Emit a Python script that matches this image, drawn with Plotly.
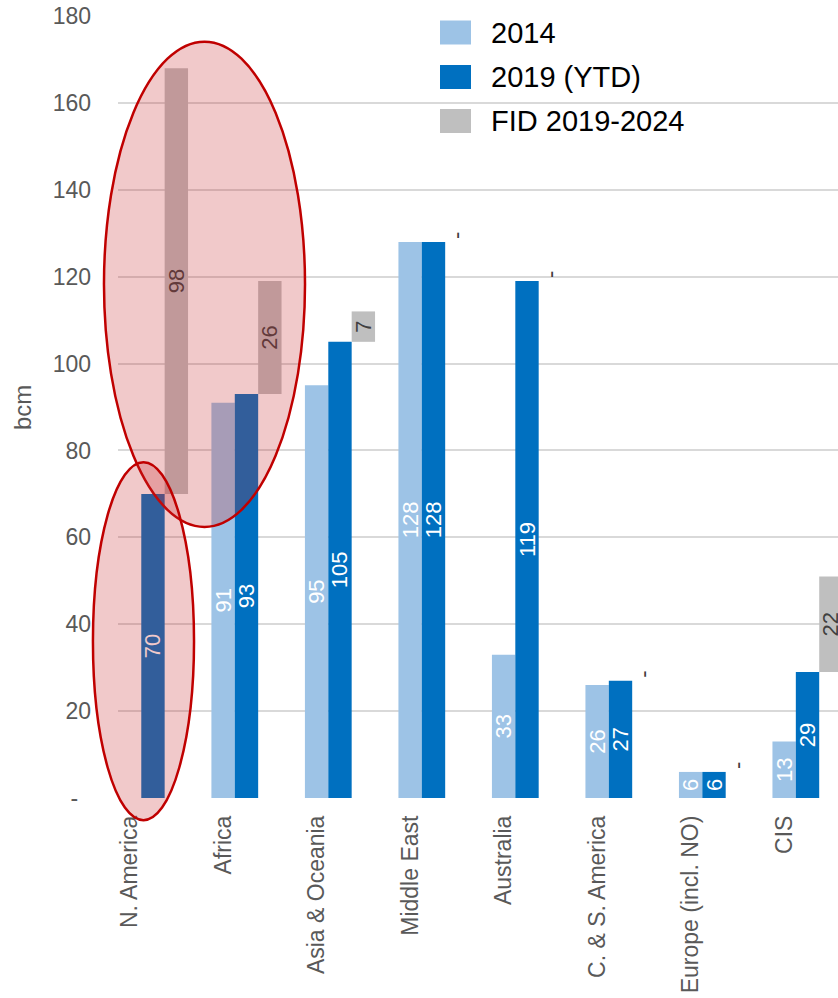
import plotly.graph_objects as go

# LNG liquefaction capacity by region, bcm
regions = ["N. America", "Africa", "Asia & Oceania", "Middle East",
           "Australia", "C. & S. America", "Europe (incl. NO)", "CIS"]
cap_2014 = [None, 91, 95, 128, 33, 26, 6, 13]
cap_2019_ytd = [70, 93, 105, 128, 119, 27, 6, 29]
fid_2019_2024 = [98, 26, 7, 0, 0, 0, 0, 22]

series_names = ["2014", "2019 (YTD)", "FID 2019-2024"]
series_colors = ["#9DC3E6", "#0070C0", "#BFBFBF"]

y_ticks = [0, 20, 40, 60, 80, 100, 120, 140, 160, 180]
y_tick_text = ["-\u00a0\u00a0"] + [str(v) for v in y_ticks[1:]]

# highlighted groups: (x0, x1, y0, y1) in category-index / bcm units
highlights = [
    (-0.524, 1.626, 62.4, 174.1),
    (-0.642, 0.439, -5.1, 77.3),
]

FONT = "Liberation Sans, Arial, sans-serif"
W, H = 838, 998
M_L, M_R, M_T, M_B = 118, 0, 16, 200
X_RANGE = [-0.374, 7.326]
Y_RANGE = [0, 180]
BAR_W = 0.25

idx = list(range(len(regions)))


def label(v):
    return "" if v is None else str(v)


fig = go.Figure()

fig.add_trace(go.Bar(
    x=idx, y=cap_2014, width=BAR_W, offset=-0.375,
    marker=dict(color=series_colors[0], line=dict(width=0)),
    text=[label(v) for v in cap_2014], textposition="inside",
    insidetextanchor="middle", textangle=-90, constraintext="none",
    insidetextfont=dict(color="white", size=22, family=FONT),
    name=series_names[0], showlegend=False, hoverinfo="skip",
))

fig.add_trace(go.Bar(
    x=idx, y=cap_2019_ytd, width=BAR_W, offset=-0.125,
    marker=dict(color=series_colors[1], line=dict(width=0)),
    text=[label(v) for v in cap_2019_ytd], textposition="inside",
    insidetextanchor="middle", textangle=-90, constraintext="none",
    insidetextfont=dict(color="white", size=22, family=FONT),
    name=series_names[1], showlegend=False, hoverinfo="skip",
))

fig.add_trace(go.Bar(
    x=idx, y=fid_2019_2024, base=cap_2019_ytd, width=BAR_W, offset=0.125,
    marker=dict(color=series_colors[2], line=dict(width=0)),
    text=[str(v) if v else "-" for v in fid_2019_2024],
    textposition=["inside" if v else "outside" for v in fid_2019_2024],
    insidetextanchor="middle", textangle=-90, constraintext="none",
    insidetextfont=dict(color="#404040", size=22, family=FONT),
    outsidetextfont=dict(color="#404040", size=22, family=FONT),
    name=series_names[2], showlegend=False, hoverinfo="skip",
))


def to_dom_x(v):
    return (v - X_RANGE[0]) / (X_RANGE[1] - X_RANGE[0])


def to_dom_y(v):
    return (v - Y_RANGE[0]) / (Y_RANGE[1] - Y_RANGE[0])


for x0, x1, y0, y1 in highlights:
    fig.add_shape(
        type="circle", xref="x domain", yref="y domain",
        x0=to_dom_x(x0), x1=to_dom_x(x1), y0=to_dom_y(y0), y1=to_dom_y(y1),
        fillcolor="rgba(200,40,45,0.25)",
        line=dict(color="#C00000", width=2.5), layer="above",
    )

# legend drawn as swatches and labels (pixel layout converted to paper units)
plot_w = W - M_L - M_R
plot_h = H - M_T - M_B


def px_x(p):
    return (p - M_L) / plot_w


def px_y(p):
    return (H - M_B - p) / plot_h


legend_rows = [32.5, 77, 121]
for name, color, yc in zip(series_names, series_colors, legend_rows):
    fig.add_shape(
        type="rect", xref="paper", yref="paper",
        x0=px_x(440), x1=px_x(471), y0=px_y(yc + 12), y1=px_y(yc - 12),
        fillcolor=color, line=dict(width=0), layer="above",
    )
    fig.add_annotation(
        xref="paper", yref="paper", x=px_x(489), y=px_y(yc),
        xanchor="left", yanchor="middle", showarrow=False, text=name,
        font=dict(family=FONT, size=29, color="#000000"),
    )

fig.add_annotation(
    xref="paper", yref="paper", x=px_x(22), y=px_y(408),
    xanchor="center", yanchor="middle", showarrow=False, text="bcm",
    textangle=-90, font=dict(family=FONT, size=24, color="#595959"),
)

fig.update_layout(
    width=W, height=H,
    margin=dict(l=M_L, r=M_R, t=M_T, b=M_B, autoexpand=False),
    paper_bgcolor="white", plot_bgcolor="white",
    barmode="overlay", showlegend=False,
    font=dict(family=FONT, color="#595959"),
    xaxis=dict(
        range=X_RANGE, showgrid=False, zeroline=False, showline=False,
        tickmode="array", tickvals=[i - 0.25 for i in idx], ticktext=regions,
        tickangle=-90, ticks="", ticklabelstandoff=12,
        tickfont=dict(family=FONT, size=23, color="#595959"),
        fixedrange=True,
    ),
    yaxis=dict(
        range=Y_RANGE, showgrid=True, gridcolor="#D9D9D9", gridwidth=1.5,
        zeroline=False, showline=False,
        tickmode="array", tickvals=y_ticks, ticktext=y_tick_text,
        ticks="", ticklabelstandoff=26,
        tickfont=dict(family=FONT, size=23, color="#595959"),
        fixedrange=True,
    ),
)

fig.write_html("out.html")
